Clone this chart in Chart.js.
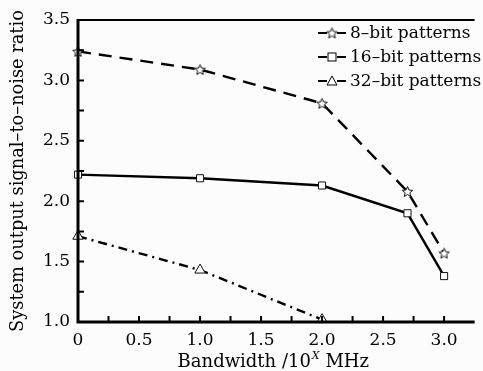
<!DOCTYPE html>
<html>
<head>
<meta charset="utf-8">
<script src="https://cdn.jsdelivr.net/npm/chart.js@4/dist/chart.umd.min.js"></script>
<style>
html,body{margin:0;padding:0;background:#fcfcfc;}
#wrap{width:483px;height:371px;position:relative;}
</style>
</head>
<body>
<div id="wrap"><canvas id="c" width="483" height="371"></canvas></div>
<script>
// ---- data ----
const bandwidth8 = [0, 1.0, 2.0, 2.7, 3.0];
const snr8 = [3.24, 3.09, 2.81, 2.08, 1.57];
const bandwidth16 = [0, 1.0, 2.0, 2.7, 3.0];
const snr16 = [2.22, 2.19, 2.13, 1.90, 1.38];
const bandwidth32 = [0, 1.0, 2.0];
const snr32 = [1.71, 1.43, 1.02];
const seriesNames = ['8\u2013bit patterns', '16\u2013bit patterns', '32\u2013bit patterns'];
const xTickValues = [0, 0.5, 1.0, 1.5, 2.0, 2.5, 3.0];
const xTickLabels = ['0', '0.5', '1.0', '1.5', '2.0', '2.5', '3.0'];
const yTickValues = [1.0, 1.5, 2.0, 2.5, 3.0, 3.5];
const yTickLabels = ['1.0', '1.5', '2.0', '2.5', '3.0', '3.5'];
const xMinorValues = [0.25, 0.75, 1.25, 1.75, 2.25, 2.75, 3.25];
const yMinorValues = [1.25, 1.75, 2.25, 2.75, 3.25];
const yTitle = 'System output signal\u2013to\u2013noise ratio';
const xTitleParts = ['Bandwidth /10', 'X', ' MHz'];

const FONT = '"DejaVu Serif", "Liberation Serif", serif';
const INK = '#000';

function starCanvas(size) {
  const c = document.createElement('canvas');
  c.width = size; c.height = size;
  const g = c.getContext('2d');
  const cx = size / 2, cy = size / 2 + 0.5, R = size / 2 - 1, r = R * 0.45;
  g.beginPath();
  for (let i = 0; i < 10; i++) {
    const a = -Math.PI / 2 + i * Math.PI / 5;
    const rr = i % 2 === 0 ? R : r;
    const px = cx + rr * Math.cos(a), py = cy + rr * Math.sin(a);
    if (i === 0) g.moveTo(px, py); else g.lineTo(px, py);
  }
  g.closePath();
  g.fillStyle = '#fff';
  g.fill();
  g.lineWidth = 1;
  g.strokeStyle = '#111';
  g.stroke();
  return c;
}
const starImg = starCanvas(13);

function pts(xs, ys) { return xs.map((x, i) => ({ x: x, y: ys[i] })); }

const overlay = {
  id: 'overlay',
  afterDraw(chart) {
    const ctx = chart.ctx;
    const a = chart.chartArea;
    const xs = chart.scales.x, ys = chart.scales.y;
    ctx.save();
    ctx.strokeStyle = INK;
    ctx.lineWidth = 3;
    ctx.beginPath();
    ctx.moveTo(a.left, a.top - 1);
    ctx.lineTo(a.left, a.bottom);
    ctx.lineTo(a.right, a.bottom);
    ctx.stroke();
    ctx.lineWidth = 2;
    ctx.beginPath();
    ctx.moveTo(a.left, a.top);
    ctx.lineTo(a.right, a.top);
    ctx.stroke();
    // inward ticks
    ctx.lineWidth = 2;
    ctx.beginPath();
    xTickValues.concat(xMinorValues).forEach(v => {
      const px = xs.getPixelForValue(v);
      if (px > a.left + 2 && px < a.right) { ctx.moveTo(px, a.bottom); ctx.lineTo(px, a.bottom - 6); }
    });
    yTickValues.concat(yMinorValues).forEach(v => {
      const py = ys.getPixelForValue(v);
      if (py < a.bottom - 2 && py > a.top + 2) { ctx.moveTo(a.left, py); ctx.lineTo(a.left + 6, py); }
    });
    ctx.stroke();

    // legend
    ctx.font = '17px ' + FONT;
    ctx.textBaseline = 'middle';
    ctx.textAlign = 'left';
    ctx.fillStyle = INK;
    const rows = [33, 57, 81];
    const markers = ['star', 'rect', 'triangle'];
    rows.forEach((ry, i) => {
      ctx.lineWidth = 2.2;
      ctx.setLineDash([]);
      ctx.beginPath();
      ctx.moveTo(318, ry); ctx.lineTo(327, ry);
      ctx.moveTo(337, ry); ctx.lineTo(346, ry);
      ctx.stroke();
      ctx.lineWidth = 1;
      if (markers[i] === 'star') {
        ctx.drawImage(starImg, 332 - 6.5, ry - 6.5);
      } else if (markers[i] === 'rect') {
        ctx.fillStyle = '#fff';
        ctx.fillRect(328, ry - 4, 8, 8);
        ctx.strokeRect(328, ry - 4, 8, 8);
      } else {
        ctx.fillStyle = '#fff';
        ctx.beginPath();
        ctx.moveTo(332, ry - 5); ctx.lineTo(337, ry + 4); ctx.lineTo(327, ry + 4); ctx.closePath();
        ctx.fill(); ctx.stroke();
      }
      ctx.fillStyle = INK;
      ctx.fillText(seriesNames[i], 350, ry + 1);
    });

    // y title
    ctx.save();
    ctx.translate(18, (a.top + a.bottom) / 2);
    ctx.rotate(-Math.PI / 2);
    ctx.textAlign = 'center';
    ctx.textBaseline = 'middle';
    ctx.font = '17.8px ' + FONT;
    ctx.fillText(yTitle, 0, 0);
    ctx.restore();

    // x title with superscript
    const base = 367;
    const tf = '18px ' + FONT;
    ctx.font = tf;
    const w0 = ctx.measureText(xTitleParts[0]).width;
    ctx.font = 'italic 11px ' + FONT;
    const w1 = ctx.measureText(xTitleParts[1]).width + 1;
    ctx.font = tf;
    const w2 = ctx.measureText(xTitleParts[2]).width;
    let sx = (a.left + a.right) / 2 - 3 - (w0 + w1 + w2) / 2;
    ctx.textAlign = 'left';
    ctx.textBaseline = 'alphabetic';
    ctx.fillText(xTitleParts[0], sx, base);
    ctx.font = 'italic 11px ' + FONT;
    ctx.fillText(xTitleParts[1], sx + w0 + 1, base - 8);
    ctx.font = tf;
    ctx.fillText(xTitleParts[2], sx + w0 + w1, base);
    ctx.restore();
  }
};

new Chart(document.getElementById('c'), {
  type: 'scatter',
  data: {
    datasets: [
      {
        label: seriesNames[0], data: pts(bandwidth8, snr8), showLine: true,
        borderColor: INK, borderWidth: 2.4, borderDash: [13, 8],
        pointStyle: starImg, pointRadius: 6, backgroundColor: '#fff'
      },
      {
        label: seriesNames[1], data: pts(bandwidth16, snr16), showLine: true,
        borderColor: INK, borderWidth: 2.4,
        pointStyle: 'rect', pointRadius: 5, pointBorderWidth: 1,
        pointBackgroundColor: '#fff', pointBorderColor: '#111'
      },
      {
        label: seriesNames[2], data: pts(bandwidth32, snr32), showLine: true,
        borderColor: INK, borderWidth: 2.4, borderDash: [9, 5, 2, 5],
        pointStyle: 'triangle', pointRadius: 6, pointBorderWidth: 1,
        pointBackgroundColor: '#fff', pointBorderColor: '#111'
      }
    ]
  },
  options: {
    responsive: false,
    animation: false,
    clip: false,
    layout: { padding: { top: 20, right: 0, left: 0, bottom: 0 } },
    plugins: { legend: { display: false }, tooltip: { enabled: false } },
    scales: {
      x: {
        type: 'linear', min: 0, max: 3.25,
        afterBuildTicks: s => { s.ticks = xTickValues.map(v => ({ value: v })); },
        afterFit: s => { s.height = 49; },
        grid: { display: false, drawTicks: false },
        border: { display: false },
        ticks: {
          padding: 8, color: INK, font: { family: FONT, size: 17 },
          maxRotation: 0, autoSkip: false,
          callback: (v) => { const i = xTickValues.findIndex(t => Math.abs(t - v) < 1e-9); return i >= 0 ? xTickLabels[i] : ''; }
        }
      },
      y: {
        type: 'linear', min: 1.0, max: 3.5,
        afterBuildTicks: s => { s.ticks = yTickValues.map(v => ({ value: v })); },
        afterFit: s => { s.width = 78; },
        grid: { display: false, drawTicks: false },
        border: { display: false },
        ticks: {
          padding: 8, color: INK, font: { family: FONT, size: 17 },
          callback: (v) => { const i = yTickValues.findIndex(t => Math.abs(t - v) < 1e-9); return i >= 0 ? yTickLabels[i] : ''; }
        }
      }
    }
  },
  plugins: [overlay]
});
</script>
</body>
</html>
